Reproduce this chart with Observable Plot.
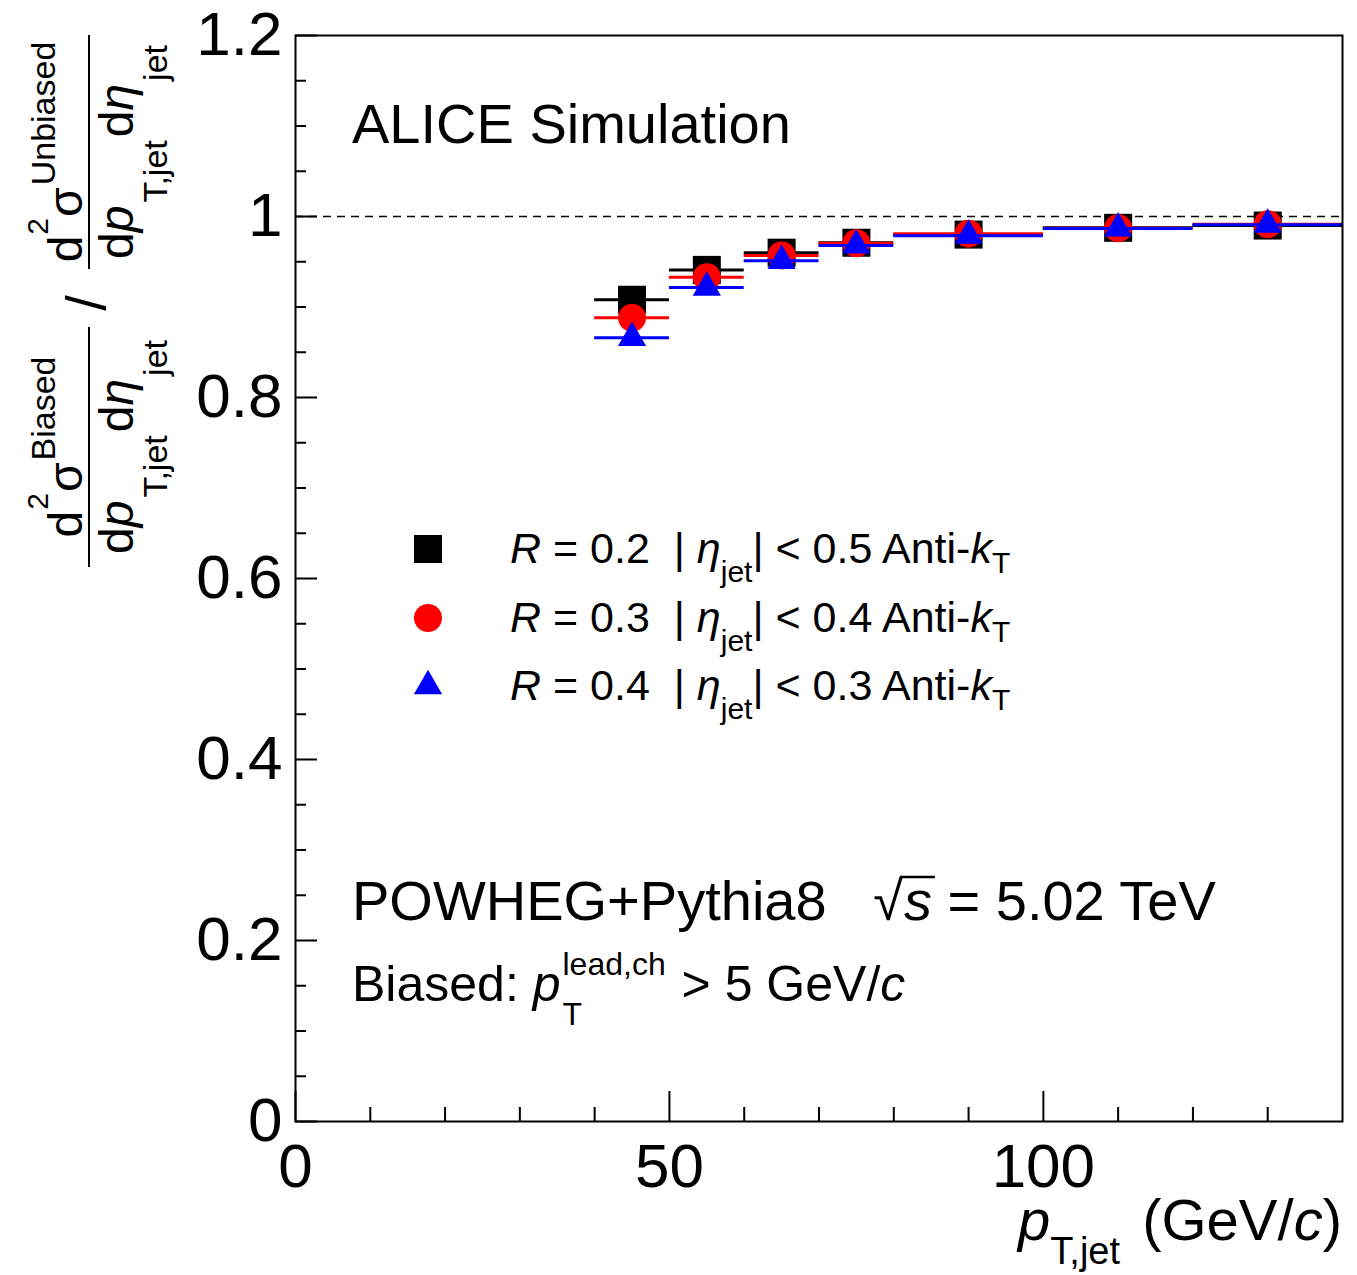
<!DOCTYPE html>
<html><head><meta charset="utf-8">
<script src="https://cdn.jsdelivr.net/npm/d3@7"></script>
<script src="https://cdn.jsdelivr.net/npm/@observablehq/plot@0.6"></script>
<style>html,body{margin:0;padding:0;background:#fff;} svg{display:block;}</style>
</head><body><div id="chart"></div>
<script>
const FONT = "'Liberation Sans', Arial, Helvetica, sans-serif";

// ---- data ----
const binLow  = [40, 50, 60, 70, 80, 100, 120];
const binHigh = [50, 60, 70, 80, 100, 120, 140];
const ratioR02 = [0.908, 0.941, 0.960, 0.971, 0.980, 0.9875, 0.990];
const ratioR03 = [0.888, 0.933, 0.957, 0.9705, 0.981, 0.987, 0.9915];
const ratioR04 = [0.866, 0.9215, 0.951, 0.968, 0.9788, 0.9868, 0.991];
const seriesR   = ["0.2", "0.3", "0.4"];
const seriesEta = ["0.5", "0.4", "0.3"];
const seriesColors  = ["#000000", "#ff0000", "#0000ff"];
const seriesSymbols = ["square", "circle", "triangle"];
const seriesRadius  = [15.8, 14, 10.5];
const xMajorTicks = [0, 50, 100];
const xMinorTicks = [10, 20, 30, 40, 60, 70, 80, 90, 110, 120, 130];
const yMajorTicks = [0, 0.2, 0.4, 0.6, 0.8, 1, 1.2];
const yMinorTicks = [0.05, 0.1, 0.15, 0.25, 0.3, 0.35, 0.45, 0.5, 0.55, 0.65, 0.7, 0.75, 0.85, 0.9, 0.95, 1.05, 1.1, 1.15];
const referenceLine = [1];

const seriesValues = [ratioR02, ratioR03, ratioR04];
const rows = seriesValues.map(vals => vals.map((v, i) => ({lo: binLow[i], hi: binHigh[i], v})));

const W = 1357, H = 1275, mL = 295, mR = 15, mT = 35, mB = 154;
const frameW = W - mL - mR, frameH = H - mT - mB;

const marks = [
  Plot.ruleY(referenceLine, {stroke: "black", strokeWidth: 1.5, strokeDasharray: "8,6"})
];
rows.forEach((r, s) => {
  marks.push(Plot.ruleY(r, {y: "v", x1: "lo", x2: "hi", stroke: seriesColors[s], strokeWidth: 3}));
  marks.push(Plot.dot(r, {x: d => (d.lo + d.hi) / 2, y: "v", symbol: seriesSymbols[s], r: seriesRadius[s], fill: seriesColors[s], stroke: "none"}));
});
marks.push(
  Plot.ruleX(xMajorTicks, {insetTop: frameH - 30, stroke: "black", strokeWidth: 2}),
  Plot.ruleX(xMinorTicks, {insetTop: frameH - 14, stroke: "black", strokeWidth: 2}),
  Plot.ruleY(yMajorTicks, {insetRight: frameW - 22, stroke: "black", strokeWidth: 2}),
  Plot.ruleY(yMinorTicks, {insetRight: frameW - 11, stroke: "black", strokeWidth: 2}),
  Plot.frame({stroke: "black", strokeWidth: 2}),
  Plot.axisX(xMajorTicks, {anchor: "bottom", tickSize: 0, tickPadding: 21, fontSize: 62, label: null, tickFormat: d => String(d)}),
  Plot.axisY(yMajorTicks, {anchor: "left", tickSize: 0, tickPadding: 13, fontSize: 62, label: null, tickFormat: d => String(d)})
);

const plot = Plot.plot({
  width: W, height: H,
  marginLeft: mL, marginRight: mR, marginTop: mT, marginBottom: mB,
  x: {domain: [0, 140], label: null},
  y: {domain: [0, 1.2], label: null},
  style: {fontFamily: FONT, background: "white", color: "black"},
  marks
});
document.getElementById("chart").append(plot);

const svg = d3.select(plot);
const ann = svg.append("g")
  .attr("font-family", FONT)
  .attr("fill", "black")
  .attr("text-anchor", "start")
  .style("text-anchor", "start");

function rich(parent, x, y, runs, anchor = "start") {
  const g = parent.append("g");
  const items = runs.map(r => {
    const t = g.append("text")
      .attr("y", y + (r.shift || 0))
      .attr("font-size", r.size)
      .attr("text-anchor", "start")
      .attr("font-style", r.italic ? "italic" : null)
      .attr("xml:space", "preserve")
      .style("white-space", "pre")
      .text(r.t);
    return {t, w: t.node().getComputedTextLength(), r};
  });
  let pos = 0, stackStart = null, stackW = 0;
  const xs = [];
  items.forEach(it => {
    if (stackStart !== null) {
      xs.push(stackStart);
      pos = stackStart + Math.max(stackW, it.w);
      stackStart = null;
    } else {
      pos += it.r.gap || 0;
      if (it.r.stack) { xs.push(pos); stackStart = pos; stackW = it.w; }
      else { xs.push(pos); pos += it.w; }
    }
  });
  const off = anchor === "end" ? x - pos : anchor === "middle" ? x - pos / 2 : x;
  items.forEach((it, i) => { it.x = off + xs[i]; it.t.attr("x", it.x); });
  return items;
}

// Texts in the frame
rich(ann, 352, 143, [{t: "ALICE Simulation", size: 56}]);
const pw = rich(ann, 352, 920, [
  {t: "POWHEG+Pythia8   ", size: 56},
  {t: "\u221A", size: 54},
  {t: "s", size: 56, italic: true, gap: 1},
  {t: " = 5.02 TeV", size: 56}
]);
// radical bar over s
ann.append("line")
  .attr("x1", pw[1].x + pw[1].w - 3).attr("x2", pw[2].x + pw[2].w + 3)
  .attr("y1", 920 - 43).attr("y2", 920 - 43)
  .attr("stroke", "black").attr("stroke-width", 2.5);

rich(ann, 352, 1001, [
  {t: "Biased: ", size: 50},
  {t: "p", size: 50, italic: true},
  {t: "lead,ch", size: 32, shift: -26, stack: true, gap: 2},
  {t: "T", size: 32, shift: 24},
  {t: " > 5 GeV/", size: 50, gap: 2},
  {t: "c", size: 50, italic: true}
]);

// Legend
const legendX = 428, legendTextX = 510, legendY = [549, 618, 686];
seriesR.forEach((rv, s) => {
  const sym = {square: d3.symbolSquare, circle: d3.symbolCircle, triangle: d3.symbolTriangle}[seriesSymbols[s]];
  ann.append("path")
    .attr("d", d3.symbol(sym, Math.PI * seriesRadius[s] ** 2)())
    .attr("transform", `translate(${legendX},${legendY[s]})`)
    .attr("fill", seriesColors[s]);
  rich(ann, legendTextX, legendY[s] + 14, [
    {t: "R", size: 43, italic: true},
    {t: " = " + rv + "  | ", size: 43},
    {t: "\u03B7", size: 43, italic: true},
    {t: "jet", size: 30, shift: 19},
    {t: "| < " + seriesEta[s] + " Anti-", size: 43},
    {t: "k", size: 43, italic: true},
    {t: "T", size: 30, shift: 10}
  ]);
});

// X-axis title
rich(ann, 1342, 1240, [
  {t: "p", size: 58, italic: true},
  {t: "T,jet", size: 38, shift: 24},
  {t: " (GeV/", size: 58, gap: 6},
  {t: "c", size: 58, italic: true},
  {t: ")", size: 58}
], "end");

// Y-axis title (rotated), local x = -screenY, local y = screenX
const yg = ann.append("g").attr("transform", "rotate(-90)");
function fraction(center, halfLen, sup) {
  rich(yg, center, 82, [
    {t: "d", size: 48},
    {t: "2", size: 30, shift: -34, gap: 1},
    {t: "\u03C3", size: 48, gap: 1},
    {t: sup, size: 34, shift: -27, gap: 2}
  ], "middle");
  rich(yg, center, 133, [
    {t: "d", size: 48},
    {t: "p", size: 48, italic: true},
    {t: "T,jet", size: 34, shift: 34, gap: 3},
    {t: "d", size: 48, gap: 3},
    {t: "\u03B7", size: 48, italic: true},
    {t: "jet", size: 34, shift: 34, gap: 3}
  ], "middle");
  yg.append("line")
    .attr("x1", center - halfLen).attr("x2", center + halfLen)
    .attr("y1", 89).attr("y2", 89)
    .attr("stroke", "black").attr("stroke-width", 2);
}
fraction(-447, 120, "Biased");
fraction(-152, 117, "Unbiased");
rich(yg, -303, 105, [{t: "/", size: 56}], "middle");
</script>
</body></html>
